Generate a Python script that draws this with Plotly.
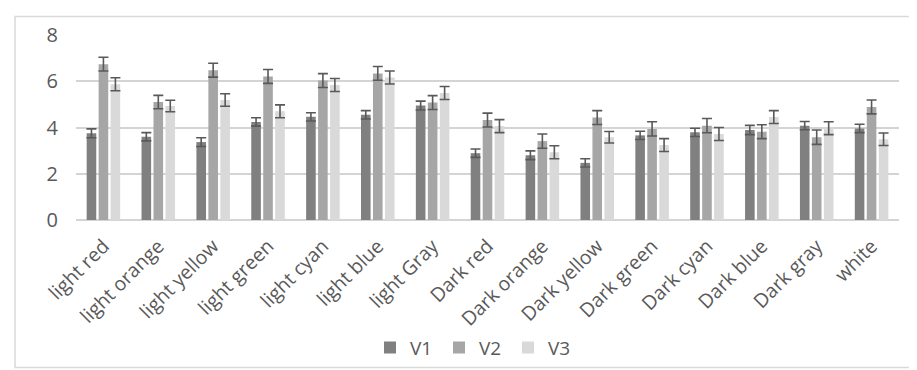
import plotly.graph_objects as go

categories = ["light red", "light orange", "light yellow", "light green", "light cyan",
              "light blue", "light Gray", "Dark red", "Dark orange", "Dark yellow",
              "Dark green", "Dark cyan", "Dark blue", "Dark gray", "white"]

v1 = [3.75, 3.60, 3.37, 4.24, 4.46, 4.55, 4.95, 2.89, 2.80, 2.47, 3.66, 3.79, 3.89, 4.08, 3.96]
v2 = [6.74, 5.10, 6.48, 6.21, 6.03, 6.34, 5.08, 4.32, 3.41, 4.43, 3.94, 4.08, 3.82, 3.58, 4.89]
v3 = [5.87, 4.93, 5.19, 4.70, 5.84, 6.16, 5.49, 4.06, 2.93, 3.58, 3.24, 3.72, 4.45, 3.97, 3.49]

e1 = [0.19, 0.18, 0.19, 0.18, 0.18, 0.18, 0.19, 0.18, 0.19, 0.18, 0.18, 0.18, 0.20, 0.18, 0.18]
e2 = [0.30, 0.29, 0.30, 0.30, 0.30, 0.30, 0.30, 0.30, 0.31, 0.30, 0.31, 0.31, 0.30, 0.31, 0.30]
e3 = [0.28, 0.25, 0.27, 0.28, 0.28, 0.28, 0.28, 0.28, 0.28, 0.25, 0.28, 0.28, 0.28, 0.28, 0.27]

series = [("V1", v1, e1, "#808080"), ("V2", v2, e2, "#a6a6a6"), ("V3", v3, e3, "#d9d9d9")]

fig = go.Figure()
for name, vals, errs, col in series:
    fig.add_trace(go.Bar(
        x=categories, y=vals, name=name,
        marker=dict(color=col, line=dict(width=0)),
        error_y=dict(type="data", array=errs, visible=True,
                     color="#595959", thickness=1.6, width=5),
    ))

W, H = 917, 370
L, R, T, B = 68, 26, 27, 153
pw, ph = W - L - R, H - T - B

def px_x(p):
    return (p - L) / pw

def px_y(p):
    return (H - B - p) / ph

fig.add_shape(type="rect", xref="paper", yref="paper",
              x0=px_x(7), x1=px_x(930), y0=px_y(368.5), y1=px_y(8),
              line=dict(color="#d9d9d9", width=1.5), fillcolor="rgba(0,0,0,0)", layer="below")

fig.update_layout(
    width=W, height=H,
    margin=dict(l=L, r=R, t=T, b=B, pad=0),
    paper_bgcolor="white", plot_bgcolor="white",
    barmode="group", bargap=0.345, bargroupgap=0.2,
    font=dict(family="Open Sans", color="#595959"),
    showlegend=True,
    legend=dict(orientation="h", x=px_x(362), y=px_y(348), xanchor="left", yanchor="middle",
                font=dict(size=19, color="#595959"), itemwidth=30, tracegroupgap=0,
                entrywidth=24, entrywidthmode="pixels",
                bgcolor="rgba(0,0,0,0)"),
    xaxis=dict(tickangle=-45, tickfont=dict(size=19.5, color="#595959"),
               showline=False, showgrid=False, ticks="", automargin=False,
               ticklabelstandoff=10),
    yaxis=dict(range=[0, 8], dtick=2, tickfont=dict(size=20, color="#595959"),
               showgrid=True, gridcolor="#d4d4d4", gridwidth=1.5,
               zeroline=True, zerolinecolor="#d4d4d4", zerolinewidth=1.5,
               showline=False, ticks="", ticklabelstandoff=17, automargin=False),
)

fig.write_html("out.html")
